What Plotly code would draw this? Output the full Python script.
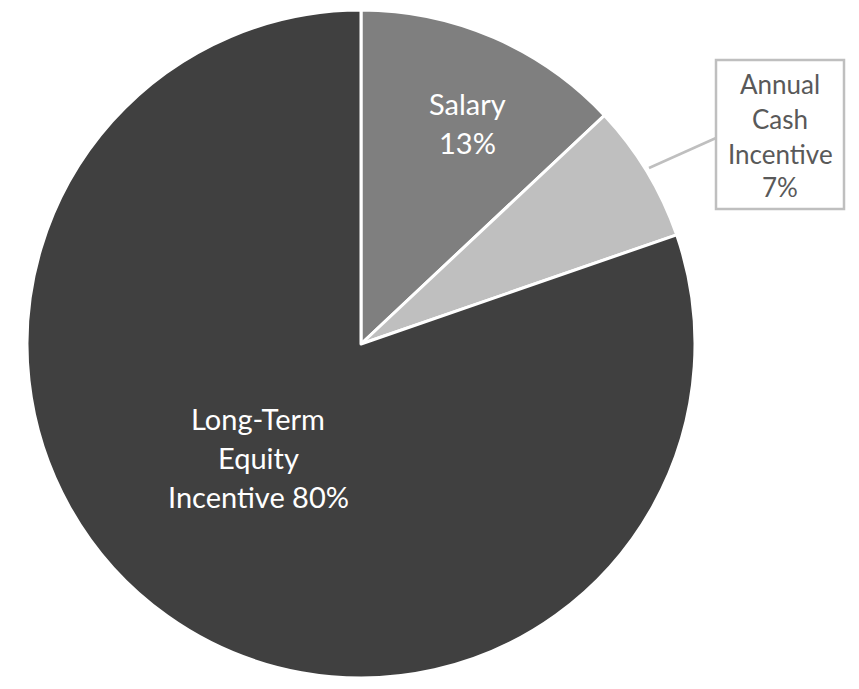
import plotly.graph_objects as go

labels = ["Salary", "Annual Cash Incentive", "Long-Term Equity Incentive"]
values = [13.0, 6.7, 80.3]
colors = ["#7f7f7f", "#bfbfbf", "#404040"]
pct = [f"{round(v)}%" for v in values]
# label lines for display
salary_lines = ["Salary", pct[0]]
annual_lines = ["Annual", "Cash", "Incentive", pct[1]]
lte_lines = ["Long-Term", "Equity", "Incentive " + pct[2]]

W, H = 859, 689
cx, cy, r = 361, 344, 334

fig = go.Figure(go.Pie(
    labels=labels, values=values, sort=False, direction="clockwise", rotation=0,
    marker=dict(colors=colors, line=dict(color="white", width=3)),
    textinfo="none", hoverinfo="label+percent", showlegend=False,
    domain=dict(x=[(cx - r) / W, (cx + r) / W], y=[1 - (cy + r) / H, 1 - (cy - r) / H]),
))

def px(x):
    return x / W

def py(y):
    return 1 - y / H

annotations = []
def add_lines(lines, x, ys, color, size):
    for t, y in zip(lines, ys):
        annotations.append(dict(x=px(x), y=py(y), xref="paper", yref="paper", text=t,
                                showarrow=False, font=dict(family="Lato", size=size, color=color),
                                xanchor="center", yanchor="middle"))

add_lines(salary_lines, 467, [104, 142], "white", 29)
add_lines(lte_lines, 258, [418, 457, 496], "white", 29)
add_lines(annual_lines, 780, [84, 119, 154, 187], "#595959", 26)

shapes = [
    dict(type="rect", xref="paper", yref="paper", x0=px(716), x1=px(844), y0=py(60), y1=py(209),
         line=dict(color="#bfbfbf", width=2.5), fillcolor="white"),
    dict(type="line", xref="paper", yref="paper", x0=px(649), y0=py(168), x1=px(716), y1=py(138),
         line=dict(color="#bfbfbf", width=2.5)),
]

fig.update_layout(width=W, height=H, margin=dict(l=0, r=0, t=0, b=0),
                  paper_bgcolor="white", plot_bgcolor="white",
                  annotations=annotations, shapes=shapes)
fig.write_html("out.html")
